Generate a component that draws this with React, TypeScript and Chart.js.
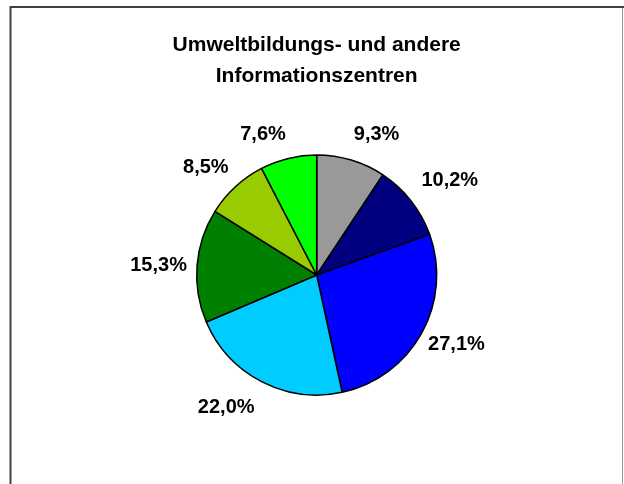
import React, { useEffect, useRef } from "react";
import { Chart, registerables } from "chart.js";

Chart.register(...registerables);

const titleLines = ["Umweltbildungs- und andere", "Informationszentren"];
const categories = ["A", "B", "C", "D", "E", "F", "G"];
const shares = [9.3, 10.2, 27.1, 22.0, 15.3, 8.5, 7.6];
const sliceColors = ["#999999", "#000080", "#0000FF", "#00CCFF", "#008000", "#99CC00", "#00FF00"];
// label placement relative to each slice (angle nudge in degrees, distance as a factor of radius)
const labelNudgeDeg = [6.4, 2.8, -2.6, 6.9, -1.2, -3.1, -7.3];
const labelRadiusFactor = [1.27, 1.36, 1.3, 1.34, 1.32, 1.29, 1.25];

const FONT = '"Liberation Sans", Arial, sans-serif';

const framePlugin = {
  id: "frame",
  beforeDraw(chart: any) {
    const { ctx, width, height } = chart;
    ctx.save();
    ctx.fillStyle = "#ffffff";
    ctx.fillRect(0, 0, width, height);
    ctx.strokeStyle = "#404040";
    ctx.lineWidth = 2;
    ctx.beginPath();
    ctx.moveTo(10, 7);
    ctx.lineTo(width, 7);
    ctx.moveTo(10.5, 6);
    ctx.lineTo(10.5, height);
    ctx.stroke();
    ctx.strokeStyle = "#999999";
    ctx.lineWidth = 1;
    ctx.beginPath();
    ctx.moveTo(622.5, 8);
    ctx.lineTo(622.5, height);
    ctx.stroke();
    ctx.restore();
  },
};

const labelPlugin = {
  id: "outLabels",
  afterDatasetsDraw(chart: any) {
    const { ctx } = chart;
    const meta = chart.getDatasetMeta(0);
    ctx.save();
    ctx.font = `bold 20px ${FONT}`;
    ctx.fillStyle = "#000";
    ctx.textAlign = "center";
    ctx.textBaseline = "middle";
    meta.data.forEach((arc: any, i: number) => {
      const { x, y, startAngle, endAngle, outerRadius } = arc.getProps(
        ["x", "y", "startAngle", "endAngle", "outerRadius"],
        true
      );
      const mid = (startAngle + endAngle) / 2 + (labelNudgeDeg[i] * Math.PI) / 180;
      const d = outerRadius * labelRadiusFactor[i];
      const text = shares[i].toFixed(1).replace(".", ",") + "%";
      ctx.fillText(text, x + Math.cos(mid) * d, y + Math.sin(mid) * d);
    });
    ctx.restore();
  },
};

export default function App() {
  const ref = useRef<HTMLCanvasElement | null>(null);
  useEffect(() => {
    if (!ref.current) return;
    const chart = new Chart(ref.current, {
      type: "pie",
      data: {
        labels: categories,
        datasets: [
          {
            data: shares,
            backgroundColor: sliceColors,
            borderColor: "#000000",
            borderWidth: 1.5,
          },
        ],
      },
      options: {
        responsive: false,
        animation: false,
        devicePixelRatio: 1,
        radius: 120,
        layout: { padding: { top: 30, bottom: 36, left: 20, right: 10.6 } },
        plugins: {
          legend: { display: false },
          tooltip: { enabled: false },
          title: {
            display: true,
            text: titleLines,
            color: "#000",
            font: { family: FONT, size: 21, weight: "bold", lineHeight: 31 / 21 },
            padding: { top: 0, bottom: 10 },
          },
        },
      } as any,
      plugins: [framePlugin, labelPlugin],
    });
    return () => chart.destroy();
  }, []);
  return (
    <div style={{ position: "fixed", left: 0, top: 0, width: 624, height: 484 }}>
      <canvas ref={ref} width={624} height={484} style={{ display: "block" }} />
    </div>
  );
}
